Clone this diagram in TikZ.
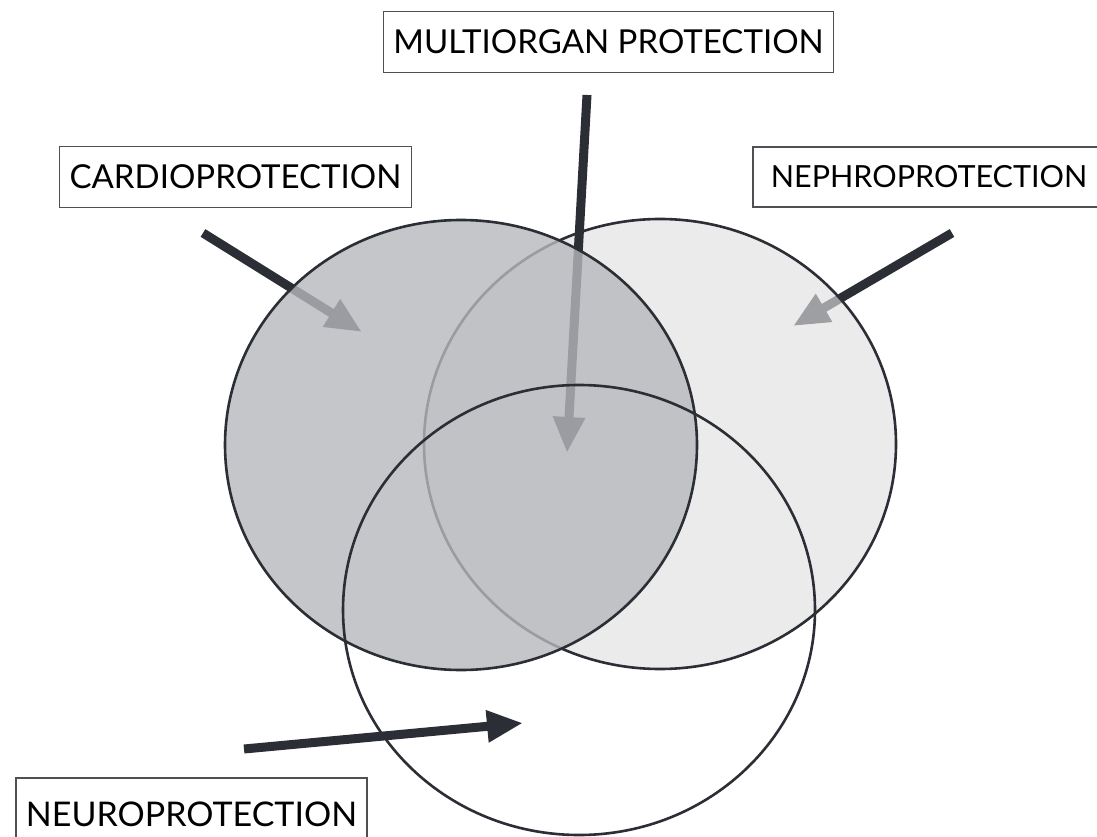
\documentclass[tikz,border=0pt]{standalone}
\usepackage{fontspec}
\setmainfont{Lato}
\usetikzlibrary{arrows.meta,shapes.geometric}
\definecolor{ink}{RGB}{43,46,53}
\definecolor{cardiofill}{RGB}{183,184,188}
\definecolor{nephrofill}{RGB}{225,225,226}
\definecolor{boxline}{RGB}{80,80,84}
\begin{document}
\begin{tikzpicture}[x=1pt,y=-1pt,
  organ/.style={ellipse, minimum width=472pt, minimum height=450pt, inner sep=0pt, draw=ink, line width=2.6pt},
  namebox/.style={draw=boxline, line width=1.6pt, fill=white, text=black,
    font=\fontsize{33}{40}\selectfont, inner xsep=10pt, minimum height=61pt},
  feed/.style={draw=ink, line width=9pt, -{Triangle[length=36pt,width=30pt]}},
]
\useasboundingbox (0,0) rectangle (1097,837);
\fill[white] (0,0) rectangle (1097,837);

% arrow ends
\coordinate (nephroFrom) at (952,233);
\coordinate (nephroTo)   at (793,326);
\coordinate (cardioFrom) at (203,233);
\coordinate (cardioTo)   at (362,332);
\coordinate (multiFrom)  at (587,95);
\coordinate (multiTo)    at (567,453);
\coordinate (neuroFrom)  at (244,749);
\coordinate (neuroTo)    at (523,723);

% kidney: arrow first, then the translucent disc over it
\draw[feed] (nephroFrom) -- (nephroTo);
\node[organ, fill=nephrofill, fill opacity=0.634] (nephro) at (660,444) {};

% heart and shared arrows beneath the darker disc
\draw[feed] (multiFrom) -- (multiTo);
\draw[feed] (cardioFrom) -- (cardioTo);
\node[organ, fill=cardiofill, fill opacity=0.8] (cardio) at (461,445) {};

% brain: outline only, arrow on top
\node[organ] (neuro) at (579,610) {};
\draw[feed] (neuroFrom) -- (neuroTo);

% captions
\node[namebox] (multiLbl) at (608.5,42) {MULTIORGAN PROTECTION};
\node[namebox] (cardioLbl) at (235.5,177) {CARDIOPROTECTION};
\node[namebox, font=\fontsize{30.5}{38}\selectfont, inner xsep=18pt, minimum height=60pt] (nephroLbl) at (929,177) {NEPHROPROTECTION};
\node[namebox, font=\fontsize{34}{40}\selectfont, minimum height=73pt] (neuroLbl) at (191.5,814.5) {NEUROPROTECTION};
\end{tikzpicture}
\end{document}
